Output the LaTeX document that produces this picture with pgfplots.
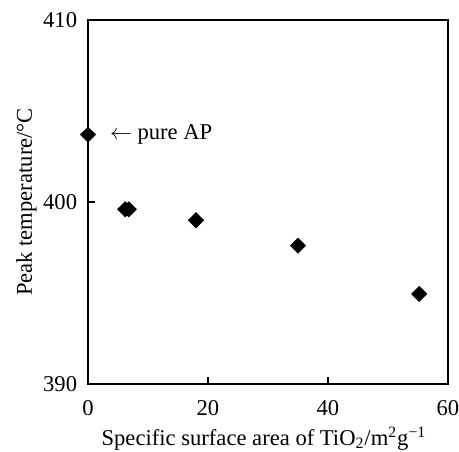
\documentclass[border=0pt]{standalone}
\usepackage{pgfplots}
\pgfplotsset{compat=1.18}
\usepackage{fontspec}
\setmainfont{Liberation Serif}

\begin{document}
\fontsize{11.3}{13}\selectfont
\begin{tikzpicture}
\begin{axis}[
    name=ax,
    scale only axis,
    width=180pt,
    height=182pt,
    xmin=0, xmax=60,
    ymin=390, ymax=410,
    xtick={0,20,40,60},
    ytick={390,400,410},
    tick align=inside,
    xtick pos=bottom,
    ytick pos=left,
    major tick length=3.5pt,
    axis line style={line width=0.9pt},
    every tick/.style={black, line width=0.6pt},
    /pgf/number format/assume math mode=true,
    xticklabel style={yshift=-4.5pt},
    yticklabel style={xshift=-1.5pt},
    xlabel={Specific surface area of TiO\textsubscript{2}/m\textsuperscript{2}g\textsuperscript{−1}},
    ylabel={Peak temperature/°C},
    xlabel style={at={([xshift=-2pt,yshift=-30.8pt]axis description cs:0.5,0)}, anchor=base},
    ylabel style={at={([xshift=-28pt]axis description cs:0,0.5)}, anchor=base},
    clip=false,
]
\addplot[only marks, mark=square*, mark size=2.65pt, mark options={rotate=45, fill=black}, black]
coordinates {
    (0,403.7)
    (6.2,399.6)
    (6.8,399.6)
    (18,399.0)
    (35,397.6)
    (55.2,394.95)
};
\node[anchor=west, inner sep=0pt] at (axis cs:3.6,403.7) {$\leftarrow$ pure AP};
\end{axis}
\pgfresetboundingbox
\path ([shift={(-44pt,-34pt)}]ax.south west) rectangle ([shift={(5.5pt,10pt)}]ax.north east);
\end{tikzpicture}
\end{document}
